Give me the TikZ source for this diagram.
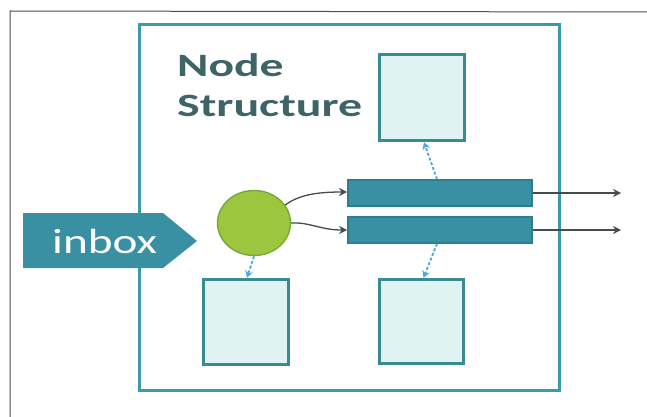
\documentclass[tikz,border=0pt]{standalone}
\usepackage{fontspec}
\setmainfont{Carlito}
\usetikzlibrary{shapes.geometric,arrows.meta}
\definecolor{frameteal}{HTML}{3D9AAD}
\definecolor{barteal}{HTML}{3A90A3}
\definecolor{bardark}{HTML}{2E7D8E}
\definecolor{boxedge}{HTML}{3A8A94}
\definecolor{boxfill}{HTML}{E0F3F3}
\definecolor{titlegray}{HTML}{3F6468}
\definecolor{hubgreen}{HTML}{9CC63E}
\definecolor{hubedge}{HTML}{78A83A}
\definecolor{linkblue}{HTML}{4FA8DC}
\definecolor{flowgray}{HTML}{444C4E}
\tikzset{
  storebox/.style={draw=boxedge, fill=boxfill, line width=3.5pt, inner sep=0pt},
  queuebar/.style={draw=bardark, fill=barteal, line width=1.5pt, inner sep=0pt,
    minimum width=184pt, minimum height=26pt},
  flow/.style={draw=flowgray, line width=1.3pt, -{Stealth[length=8pt,width=8pt]}},
  link/.style={draw=linkblue, line width=1.8pt, dash pattern=on 3pt off 2pt,
    -{Stealth[length=7pt,width=8pt]}},
  titletext/.style={text=titlegray, inner sep=0pt, anchor=base west,
    font=\fontsize{32.6}{40}\selectfont\bfseries},
}
\begin{document}
\begin{tikzpicture}[x=1pt, y=-1pt]
  \useasboundingbox (0,0) rectangle (647,417);
  % scanned page edge
  \draw[gray!60!black, line width=1pt] (10,417) -- (10,11) -- (647,12);
  % node structure frame
  \node[draw=frameteal, line width=3.2pt, minimum width=420pt, minimum height=366pt,
        inner sep=0pt] (frame) at (349.5,207.5) {};
  % title
  \node[titletext] (title1) at (177,77) {\scalebox{1.46}[1]{Node}};
  \node[titletext] (title2) at (177,117) {\scalebox{1.47}[1]{Structure}};
  % stores
  \node[storebox, minimum width=85pt, minimum height=86pt] (topstore) at (422,97.5) {};
  \node[storebox, minimum width=85pt, minimum height=85pt] (leftstore) at (246,322) {};
  \node[storebox, minimum width=84pt, minimum height=84pt] (rightstore) at (421.5,321.5) {};
  % queues
  \node[queuebar] (bar1) at (440,193) {};
  \node[queuebar] (bar2) at (440,230) {};
  % dispatcher
  \node[ellipse, draw=hubedge, fill=hubgreen, line width=1.4pt,
        minimum width=73pt, minimum height=65pt, inner sep=0pt] (hub) at (254,223) {};
  % inbox tag
  \fill[barteal] (23,213) -- (163,213) -- (197,241) -- (163,268) -- (23,268) -- cycle;
  \node[text=white, inner sep=0pt, anchor=base west,
        font=\fontsize{35}{40}\selectfont] (inbox) at (52,253) {\scalebox{1.35}[1]{inbox}};
  % flows into the queues
  \coordinate (in1) at (347,192);
  \coordinate (in2) at (347,230);
  \draw[flow] (hub.30) .. controls (300,194) and (320,192) .. (in1);
  \draw[flow] (hub.east) .. controls (310,222) and (320,230) .. (in2);
  % outgoing flows
  \coordinate (out1) at (621,193);
  \coordinate (out2) at (621,230);
  \draw[flow] (bar1.east) -- (out1);
  \draw[flow] (bar2.east) -- (out2);
  % store links
  \draw[link] ([xshift=-3pt]bar1.north) -- ([xshift=2pt]topstore.south);
  \draw[link] ([xshift=-3pt]bar2.south) -- ([xshift=2pt]rightstore.north);
  \draw[link] (hub.south) -- ([xshift=1pt]leftstore.north);
\end{tikzpicture}
\end{document}
